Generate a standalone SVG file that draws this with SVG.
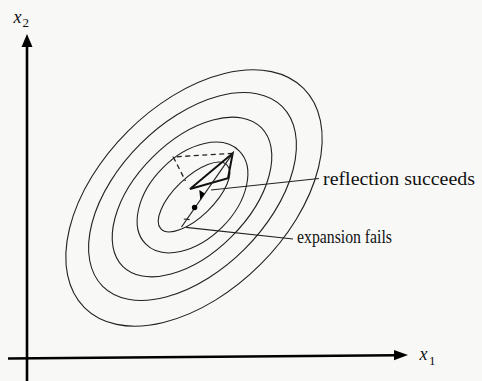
<svg xmlns="http://www.w3.org/2000/svg" width="482" height="381" viewBox="0 0 482 381">
<defs>
<style>
.contour{fill:none;stroke:#222;stroke-width:1.1}
.axis{fill:none;stroke:#000;stroke-width:2.6}
.head{fill:#000;stroke:none}
.simplex{fill:none;stroke:#111;stroke-width:2;stroke-linejoin:miter}
.dash{fill:none;stroke:#222;stroke-width:1.3;stroke-dasharray:5 3.5}
.thin{fill:none;stroke:#222;stroke-width:1.2}
.lbl{font-family:"Liberation Serif","Times New Roman",serif;fill:#111}
</style>
</defs>
<rect x="0" y="0" width="482" height="381" fill="#f8f8f7"/>
<g id="axes">
<line class="axis" x1="27" y1="381" x2="27" y2="45"/>
<polygon class="head" points="27,34 21.5,47 32.5,47"/>
<line class="axis" x1="8" y1="358.5" x2="396" y2="355.2"/>
<polygon class="head" points="408,355 394,350 394,360.2"/>
<text class="lbl" x="13.5" y="22.5" font-size="18" font-style="italic">x</text>
<text class="lbl" x="22.5" y="27" font-size="13">2</text>
<text class="lbl" x="419.5" y="359.5" font-size="18" font-style="italic">x</text>
<text class="lbl" x="429" y="365" font-size="13">1</text>
</g>
<g id="contours">
<ellipse class="contour" cx="194" cy="198" rx="155" ry="94" transform="rotate(-45 194 198)"/>
<ellipse class="contour" cx="192.5" cy="196.5" rx="127" ry="74" transform="rotate(-45 192.5 196.5)"/>
<ellipse class="contour" cx="192" cy="197" rx="98" ry="56" transform="rotate(-45 192 197)"/>
<ellipse class="contour" cx="192.5" cy="197.5" rx="66" ry="42" transform="rotate(-45 192.5 197.5)"/>
<ellipse class="contour" cx="194" cy="197" rx="46" ry="19.5" transform="rotate(-44 194 197)"/>
</g>
<g id="simplex">
<polyline class="dash" points="232.7,153.3 173.3,157 185.5,181"/>
<polygon class="simplex" points="190,189 232.7,153.3 228,178.3"/>
<line class="thin" x1="232.7" y1="153.3" x2="181.5" y2="227"/>
<polygon class="head" points="200.3,200 199.3,190 204.8,193.4"/>
<circle cx="194.6" cy="207.5" r="2.7" fill="#000"/>
<line class="thin" x1="183.8" y1="219" x2="189.6" y2="219.6"/>
</g>
<g id="connectors">
<line class="thin" x1="211" y1="190" x2="319" y2="178.5"/>
<line class="thin" x1="186" y1="227.3" x2="293" y2="239"/>
</g>
<g id="labels">
<text class="lbl" x="323" y="185" font-size="19.5" textLength="152" lengthAdjust="spacingAndGlyphs">reflection succeeds</text>
<text class="lbl" x="297" y="242.5" font-size="19.5" textLength="95" lengthAdjust="spacingAndGlyphs">expansion fails</text>
</g>
</svg>
